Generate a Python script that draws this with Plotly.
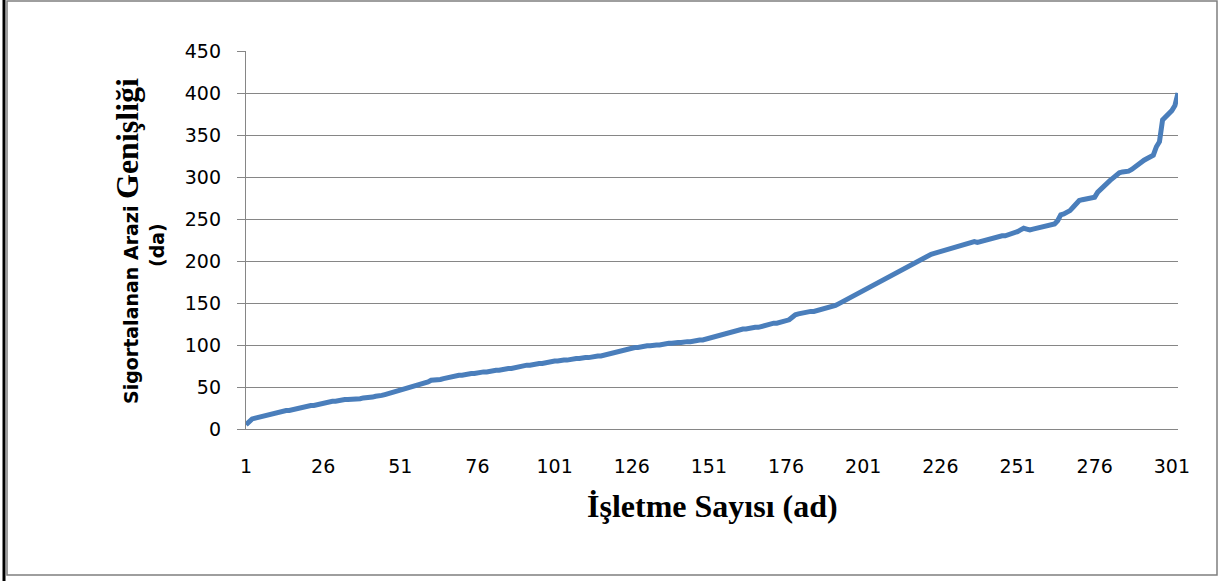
import plotly.graph_objects as go

# Sorted insured land area per farm (da)
isletme_no = list(range(1, 304))
arazi = [
    5, 9, 12, 13, 14, 15, 16, 17, 18, 18,
    19, 20, 21, 22, 22, 23, 24, 24, 25, 26,
    27, 28, 28, 29, 30, 31, 32, 32, 33, 33,
    34, 34, 35, 35, 35, 36, 36, 36, 37, 37,
    38, 38, 39, 39, 40, 41, 42, 44, 45, 46,
    47, 48, 49, 50, 51, 52, 53, 54, 55, 56,
    58, 58, 59, 59, 60, 61, 62, 63, 63, 64,
    64, 65, 65, 66, 66, 67, 67, 68, 68, 69,
    69, 70, 70, 71, 71, 72, 72, 73, 73, 74,
    75, 76, 76, 77, 77, 78, 78, 79, 80, 80,
    81, 81, 82, 82, 82, 83, 83, 84, 84, 85,
    85, 85, 86, 86, 87, 87, 88, 89, 90, 91,
    92, 93, 94, 95, 96, 96, 97, 97, 98, 98,
    99, 99, 100, 100, 100, 101, 101, 102, 102, 103,
    103, 103, 104, 104, 104, 105, 105, 106, 106, 107,
    108, 109, 110, 112, 113, 114, 115, 116, 117, 118,
    118, 119, 119, 120, 120, 121, 121, 122, 124, 125,
    125, 126, 126, 127, 127, 128, 130, 133, 136, 137,
    138, 139, 139, 140, 140, 141, 141, 142, 143, 144,
    145, 147, 149, 151, 153, 155, 157, 159, 161, 163,
    165, 167, 169, 171, 173, 175, 177, 179, 181, 183,
    185, 187, 189, 191, 193, 195, 197, 199, 201, 203,
    205, 207, 208, 209, 210, 211, 212, 213, 214, 215,
    216, 217, 218, 219, 220, 221, 223, 222, 223, 225,
    225, 226, 228, 229, 229, 230, 230, 231, 232, 233,
    235, 237, 239, 238, 237, 238, 239, 240, 241, 242,
    243, 243, 244, 248, 255, 256, 258, 260, 264, 268,
    272, 273, 274, 275, 275, 276, 282, 286, 290, 293,
    296, 299, 302, 305, 306, 306, 307, 309, 312, 315,
    318, 320, 322, 324, 326, 336, 342, 368, 372, 374,
    379, 385, 400,
]

x_tick_vals = [1, 26, 51, 76, 101, 126, 151, 176, 201, 226, 251, 276, 301]
y_tick_vals = [0, 50, 100, 150, 200, 250, 300, 350, 400, 450]

W, H = 1225, 581
L, R, T, B = 246, 47, 51, 152
PW, PH = W - L - R, H - T - B


def px(xp):
    return (xp - L) / PW


def py(yp):
    return (H - B - yp) / PH


GRID = "#868686"
TICKFONT = dict(family="DejaVu Sans", size=19, color="black")

fig = go.Figure()
fig.add_trace(go.Scatter(
    x=isletme_no, y=arazi, mode="lines",
    line=dict(color="#4a7ebb", width=5),
    showlegend=False, hoverinfo="x+y",
))

fig.update_layout(
    width=W, height=H,
    margin=dict(l=L, r=R, t=T, b=B, autoexpand=False),
    paper_bgcolor="white", plot_bgcolor="white",
    xaxis=dict(
        range=[1, 303], tickmode="array", tickvals=x_tick_vals,
        ticktext=[str(v) for v in x_tick_vals],
        showgrid=False, zeroline=False, showline=True, linecolor=GRID, linewidth=1.3,
        ticks="", ticklabelstandoff=20,
        tickfont=TICKFONT,
        automargin=False, fixedrange=True,
    ),
    yaxis=dict(
        range=[0, 450], tickmode="array", tickvals=y_tick_vals,
        showgrid=True, gridcolor=GRID, gridwidth=1.3,
        zeroline=False, showline=True, linecolor=GRID, linewidth=1.3,
        ticks="outside", ticklen=8, tickcolor=GRID, tickwidth=1.3,
        ticklabelstandoff=12,
        tickfont=TICKFONT,
        automargin=False, fixedrange=True,
    ),
    shapes=[
        dict(type="rect", xref="paper", yref="paper",
             x0=px(7), x1=px(1217), y0=py(575), y1=py(1),
             line=dict(color="#7f7f7f", width=1.5), layer="below"),
        dict(type="line", xref="paper", yref="paper",
             x0=px(4), x1=px(4), y0=py(581), y1=py(0),
             line=dict(color="black", width=3)),
    ],
    annotations=[
        dict(xref="paper", yref="paper", x=px(712), y=py(506),
             text="<b>İşletme Sayısı (ad)</b>", showarrow=False,
             font=dict(family="Liberation Serif", size=32, color="black"),
             xanchor="center", yanchor="middle"),
        dict(xref="paper", yref="paper", x=px(127), y=py(241),
             text="<b>Sigortalanan Arazi </b><span style=\"font-family:'Liberation Serif';font-size:32px;font-weight:bold\"><b>Genişliği</b></span>",
             showarrow=False, textangle=-90,
             font=dict(family="DejaVu Sans", size=19, color="black"),
             xanchor="center", yanchor="middle"),
        dict(xref="paper", yref="paper", x=px(157), y=py(245),
             text="<b>(da)</b>", showarrow=False, textangle=-90,
             font=dict(family="DejaVu Sans", size=19, color="black"),
             xanchor="center", yanchor="middle"),
    ],
)

fig.write_html(
    "out.html",
    config={"displayModeBar": False},
    post_script="document.body.style.margin='0';document.body.style.overflow='hidden';",
)
